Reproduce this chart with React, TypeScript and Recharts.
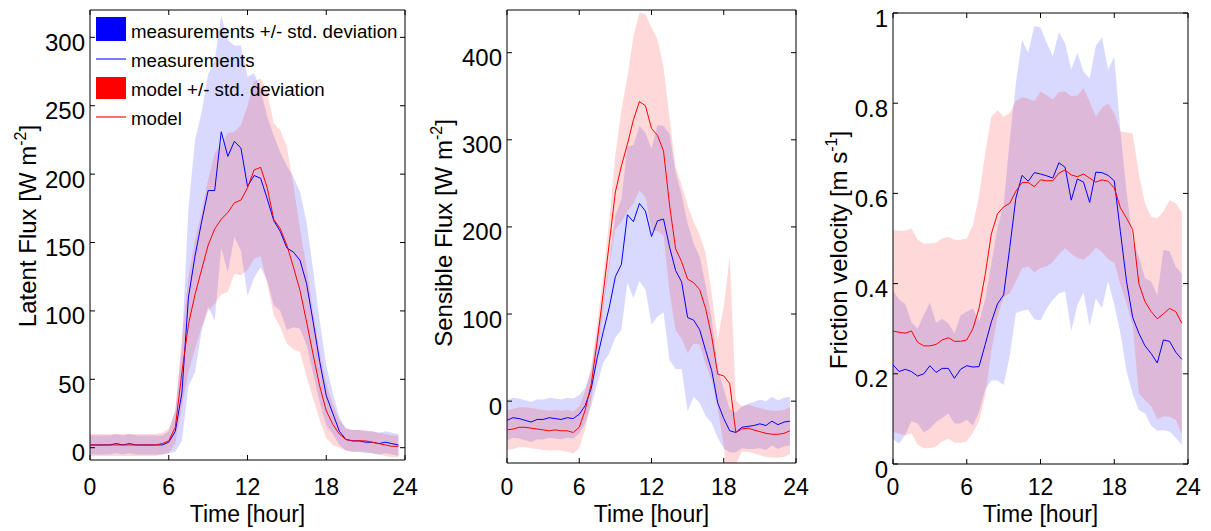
import React from 'react';
import { ComposedChart, Area, Line, XAxis, YAxis, ReferenceArea } from 'recharts';

const FONT = '"Liberation Sans", Arial, Helvetica, sans-serif';

// half-hourly time stamps
const HOURS = [
  0, 0.5, 1, 1.5, 2, 2.5, 3, 3.5, 4, 4.5, 5, 5.5,
  6, 6.5, 7, 7.5, 8, 8.5, 9, 9.5, 10, 10.5, 11, 11.5,
  12, 12.5, 13, 13.5, 14, 14.5, 15, 15.5, 16, 16.5, 17, 17.5,
  18, 18.5, 19, 19.5, 20, 20.5, 21, 21.5, 22, 22.5, 23, 23.5,
];
const X_TICKS = [0, 6, 12, 18, 24];

// Latent flux [W m-2]
const latentMeas = [
  2, 2, 2, 2, 3, 2, 3, 2, 2, 2, 2, 2,
  4, 12, 40, 110, 140, 165, 188, 188, 231, 213, 224, 219,
  191, 199, 197, 182, 166, 158, 146, 143, 137, 120, 92, 63,
  38, 25, 12, 6, 5, 5, 4, 4, 3, 4, 3, 2,
];
const latentMeasSd = [
  7, 7, 7, 7, 7, 7, 7, 7, 7, 7, 7, 7,
  8, 15, 35, 65, 85, 80, 85, 95, 85, 85, 70, 75,
  80, 75, 65, 60, 62, 58, 60, 55, 50, 45, 38, 30,
  22, 15, 10, 8, 8, 8, 8, 8, 8, 8, 8, 8,
];
const latentModel = [
  2, 2, 2, 2, 2, 2, 2, 2, 2, 2, 2, 3,
  5, 15, 55, 90, 112, 130, 148, 160, 167, 172, 179, 181,
  190, 203, 205, 190, 167, 160, 148, 132, 115, 92, 68, 45,
  27, 17, 10, 6, 5, 5, 5, 4, 3, 2, 1, 1,
];
const latentModelSd = [
  8, 8, 8, 8, 8, 8, 8, 8, 8, 8, 8, 8,
  9, 12, 25, 35, 40, 42, 48, 55, 55, 58, 52, 55,
  60, 65, 65, 70, 70, 72, 72, 60, 45, 40, 32, 25,
  20, 15, 10, 8, 8, 8, 8, 8, 8, 8, 8, 8,
];

// Sensible flux [W m-2]
const sensMeas = [
  -22, -19, -20, -22, -24, -21, -21, -19, -20, -21, -19, -20,
  -15, -5, 15, 50, 80, 108, 143, 157, 214, 206, 227, 218,
  189, 207, 209, 177, 150, 137, 96, 93, 82, 58, 35, -2,
  -20, -34, -36, -30, -29, -28, -26, -28, -23, -27, -24, -23,
];
const sensMeasSd = [
  23, 23, 23, 23, 23, 23, 23, 23, 23, 23, 23, 23,
  22, 20, 20, 30, 36, 53, 70, 75, 78, 88, 89, 90,
  101, 110, 107, 130, 113, 100, 108, 88, 84, 75, 60, 40,
  34, 25, 23, 24, 26, 27, 28, 28, 28, 28, 28, 28,
];
const sensModel = [
  -33, -32, -30, -30, -31, -32, -33, -34, -33, -34, -34, -36,
  -30, -10, 20, 70, 125, 182, 240, 270, 295, 323, 344, 339,
  313, 305, 287, 225, 175, 160, 140, 136, 128, 106, 74, 31,
  29, 20, -36, -32, -31, -33, -35, -37, -38, -38, -37, -34,
];
const sensModelSd = [
  23, 23, 23, 23, 23, 23, 23, 23, 23, 23, 24, 24,
  24, 22, 20, 20, 20, 27, 43, 64, 77, 96, 102, 105,
  116, 110, 97, 100, 94, 88, 85, 70, 63, 64, 50, 40,
  80, 146, 37, 26, 27, 27, 27, 27, 27, 27, 27, 27,
];

// Friction velocity [m s-1]
const fricMeas = [
  0.22, 0.205, 0.21, 0.205, 0.195, 0.2, 0.218, 0.203, 0.212, 0.212, 0.19, 0.21,
  0.218, 0.215, 0.216, 0.265, 0.315, 0.355, 0.375, 0.48, 0.59, 0.64, 0.627, 0.646,
  0.643, 0.639, 0.634, 0.668, 0.658, 0.585, 0.632, 0.625, 0.58, 0.647, 0.646, 0.64,
  0.628, 0.515, 0.405, 0.325, 0.29, 0.262, 0.245, 0.224, 0.275, 0.272, 0.248, 0.232,
];
const fricMeasSd = [
  0.165, 0.16, 0.145, 0.11, 0.105, 0.13, 0.14, 0.11, 0.11, 0.1, 0.1, 0.12,
  0.12, 0.13, 0.1, 0.1, 0.13, 0.17, 0.2, 0.24, 0.255, 0.3, 0.285, 0.325,
  0.325, 0.295, 0.27, 0.29, 0.275, 0.29, 0.28, 0.245, 0.275, 0.28, 0.3, 0.235,
  0.275, 0.225, 0.2, 0.17, 0.17, 0.15, 0.16, 0.15, 0.2, 0.2, 0.19, 0.19,
];
const fricModel = [
  0.295, 0.292, 0.29, 0.295, 0.27, 0.262, 0.262, 0.265, 0.275, 0.28, 0.272, 0.272,
  0.275, 0.3, 0.345, 0.42, 0.51, 0.555, 0.57, 0.578, 0.605, 0.624, 0.624, 0.615,
  0.63, 0.628, 0.628, 0.645, 0.652, 0.641, 0.637, 0.643, 0.634, 0.625, 0.63, 0.627,
  0.612, 0.568, 0.545, 0.52, 0.4, 0.36, 0.338, 0.322, 0.333, 0.345, 0.338, 0.312,
];
const fricModelSd = [
  0.224, 0.225, 0.227, 0.227, 0.227, 0.227, 0.227, 0.226, 0.225, 0.224, 0.225, 0.225,
  0.225, 0.23, 0.25, 0.27, 0.26, 0.23, 0.2, 0.2, 0.2, 0.19, 0.186, 0.19,
  0.196, 0.19, 0.18, 0.18, 0.174, 0.175, 0.18, 0.19, 0.17, 0.145, 0.16, 0.173,
  0.166, 0.17, 0.19, 0.213, 0.244, 0.218, 0.21, 0.223, 0.227, 0.24, 0.24, 0.247,
];

const buildRows = (meas: number[], measSd: number[], model: number[], modelSd: number[]) =>
  HOURS.map((t, i) => ({
    t,
    meas: meas[i],
    model: model[i],
    measBand: [meas[i] - measSd[i], meas[i] + measSd[i]],
    modelBand: [model[i] - modelSd[i], model[i] + modelSd[i]],
  }));

// tick label + inward tick marks on both bottom and top of the box
const XTick = (props: any) => {
  const { x, payload, pTop, pBottom } = props;
  return (
    <g>
      <line x1={x} x2={x} y1={pBottom} y2={pBottom - 5} stroke="#000" />
      <line x1={x} x2={x} y1={pTop} y2={pTop + 5} stroke="#000" />
      <text x={x} y={495} textAnchor="middle" fontSize={23} fontFamily={FONT} fill="#000">
        {payload.value}
      </text>
    </g>
  );
};

const YTick = (props: any) => {
  const { y, payload, pLeft, pRight } = props;
  return (
    <g>
      <line x1={pLeft} x2={pLeft + 5} y1={y} y2={y} stroke="#000" />
      <line x1={pRight} x2={pRight - 5} y1={y} y2={y} stroke="#000" />
      <text x={pLeft - 5} y={y + 5} textAnchor="end" dominantBaseline="central" fontSize={24} fontFamily={FONT} fill="#000">
        {payload.value}
      </text>
    </g>
  );
};

interface PanelProps {
  left: number;
  width: number;
  box: [number, number, number, number]; // plot left, right, top, bottom (page px)
  domain: [number, number];
  yTicks: number[];
  rows: any[];
}

const Panel: React.FC<PanelProps> = ({ left, width, box, domain, yTicks, rows }) => {
  const [bx0, bx1, by0, by1] = box;
  const pl = bx0 - left;
  const pr = bx1 - left;
  return (
    <div style={{ position: 'absolute', left, top: 0 }}>
      <ComposedChart
        width={width}
        height={531}
        data={rows}
        margin={{ top: by0, right: width - pr, bottom: 0, left: 0 }}
      >
        <XAxis
          dataKey="t"
          type="number"
          domain={[0, 24]}
          ticks={X_TICKS}
          interval={0}
          height={531 - by1}
          axisLine={false}
          tickLine={false}
          tick={<XTick pTop={by0} pBottom={by1} />}
        />
        <YAxis
          type="number"
          domain={domain}
          ticks={yTicks}
          interval={0}
          allowDataOverflow
          width={pl}
          axisLine={false}
          tickLine={false}
          tick={<YTick pLeft={pl} pRight={pr} />}
        />
        <Area dataKey="measBand" type="linear" stroke="none" fill="#0000ff" fillOpacity={0.15} dot={false} activeDot={false} isAnimationActive={false} />
        <Area dataKey="modelBand" type="linear" stroke="none" fill="#ff0000" fillOpacity={0.15} dot={false} activeDot={false} isAnimationActive={false} />
        <Line dataKey="meas" type="linear" stroke="#0000ff" strokeWidth={1} dot={false} activeDot={false} isAnimationActive={false} />
        <Line dataKey="model" type="linear" stroke="#ff0000" strokeWidth={1} dot={false} activeDot={false} isAnimationActive={false} />
        <ReferenceArea x1={0} x2={24} y1={domain[0]} y2={domain[1]} fill="none" stroke="#000" strokeWidth={1} ifOverflow="visible" />
      </ComposedChart>
    </div>
  );
};

const YTitle = ({ x, y, main, sup }: { x: number; y: number; main: string; sup: string }) => (
  <text x={x} y={y} transform={`rotate(-90 ${x} ${y})`} textAnchor="middle" fontSize={24} fontFamily={FONT} fill="#000">
    {main}
    <tspan dy={-10} fontSize={16}>{sup}</tspan>
    <tspan dy={10}>]</tspan>
  </text>
);

const App: React.FC = () => {
  const latentRows = buildRows(latentMeas, latentMeasSd, latentModel, latentModelSd);
  const sensRows = buildRows(sensMeas, sensMeasSd, sensModel, sensModelSd);
  const fricRows = buildRows(fricMeas, fricMeasSd, fricModel, fricModelSd);

  return (
    <div style={{ position: 'absolute', left: 0, top: 0, width: 1211, height: 531, background: '#fff' }}>
      <Panel left={0} width={420} box={[90, 405, 10, 460]} domain={[-9, 320]} yTicks={[0, 50, 100, 150, 200, 250, 300]} rows={latentRows} />
      <Panel left={420} width={400} box={[507, 796, 10, 463]} domain={[-71, 449]} yTicks={[0, 100, 200, 300, 400]} rows={sensRows} />
      <Panel left={820} width={391} box={[893, 1188, 13, 464]} domain={[0, 1]} yTicks={[0, 0.2, 0.4, 0.6, 0.8, 1]} rows={fricRows} />

      <svg width={1211} height={531} style={{ position: 'absolute', left: 0, top: 0, pointerEvents: 'none' }}>
        {/* legend */}
        <rect x={96} y={17} width={30} height={24} fill="#0000ff" />
        <line x1={96} x2={126} y1={59} y2={59} stroke="#3333ff" strokeWidth={1.3} />
        <rect x={96} y={77} width={30} height={22} fill="#ff0000" />
        <line x1={96} x2={126} y1={117} y2={117} stroke="#ff2222" strokeWidth={1.3} />
        <g fontFamily={FONT} fontSize={18.7} fill="#000">
          <text x={131} y={38}>measurements +/- std. deviation</text>
          <text x={131} y={67}>measurements</text>
          <text x={131} y={96}>model +/- std. deviation</text>
          <text x={131} y={125}>model</text>
        </g>

        {/* axis titles */}
        <YTitle x={36} y={226} main="Latent Flux [W m" sup="-2" />
        <YTitle x={452} y={233} main="Sensible Flux [W m" sup="-2" />
        <YTitle x={847} y={250} main="Friction velocity [m s" sup="-1" />
        <g fontFamily={FONT} fontSize={23} fill="#000" textAnchor="middle">
          <text x={247.5} y={522}>Time [hour]</text>
          <text x={651.5} y={522}>Time [hour]</text>
          <text x={1040.5} y={522}>Time [hour]</text>
        </g>
      </svg>
    </div>
  );
};

export default App;
